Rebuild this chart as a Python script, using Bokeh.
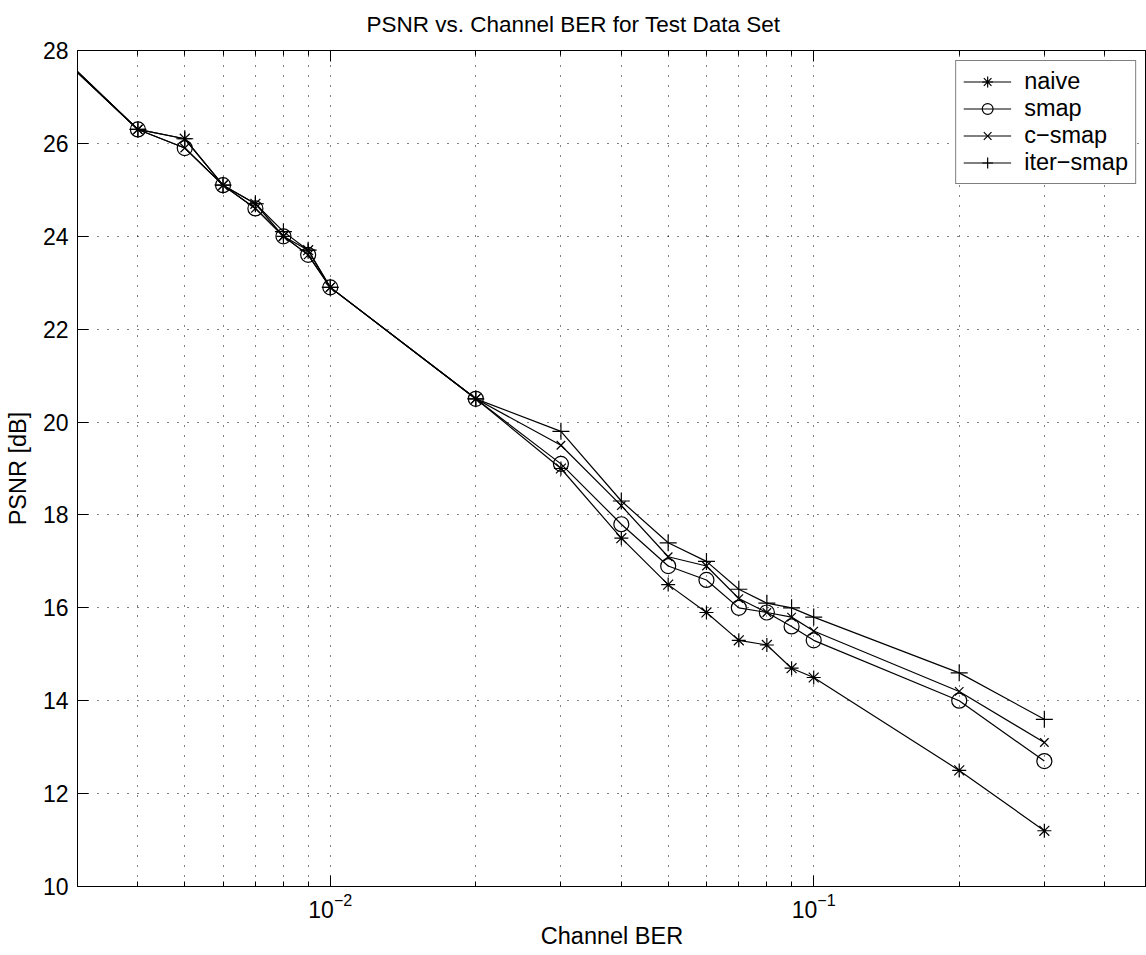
from bokeh.plotting import figure
from bokeh.models import Range1d, FixedTicker, LogAxis, Legend, LegendItem
from bokeh.embed import file_html
from bokeh.resources import INLINE

# ---- data ----
ber = [0.002, 0.004, 0.005, 0.006, 0.007, 0.008, 0.009, 0.01, 0.02, 0.03,
       0.04, 0.05, 0.06, 0.07, 0.08, 0.09, 0.1, 0.2, 0.3]
naive = [29.3, 26.3, 26.1, 25.1, 24.7, 24.0, 23.7, 22.9, 20.5, 19.0,
         17.5, 16.5, 15.9, 15.3, 15.2, 14.7, 14.5, 12.5, 11.2]
smap = [29.3, 26.3, 25.9, 25.1, 24.6, 24.0, 23.6, 22.9, 20.5, 19.1,
        17.8, 16.9, 16.6, 16.0, 15.9, 15.6, 15.3, 14.0, 12.7]
c_smap = [29.25, 26.3, 25.9, 25.1, 24.6, 24.0, 23.6, 22.9, 20.5, 19.5,
          18.2, 17.1, 16.9, 16.2, 15.9, 15.8, 15.5, 14.2, 13.1]
iter_smap = [29.25, 26.3, 26.1, 25.1, 24.7, 24.1, 23.7, 22.9, 20.5, 19.8,
             18.3, 17.4, 17.0, 16.4, 16.1, 16.0, 15.8, 14.6, 13.6]

series_names = ["naive", "smap", "c\u2212smap", "iter\u2212smap"]
series_values = [naive, smap, c_smap, iter_smap]
series_markers = ["asterisk", "circle", "x", "cross"]
marker_sizes = [14, 15, 12, 17]

x_major_ticks = [0.01, 0.1]
x_minor_ticks = [0.004, 0.005, 0.006, 0.007, 0.008, 0.009,
                 0.02, 0.03, 0.04, 0.05, 0.06, 0.07, 0.08, 0.09,
                 0.2, 0.3, 0.4]
y_ticks = [10, 12, 14, 16, 18, 20, 22, 24, 26, 28]
title_text = "PSNR vs. Channel BER for Test Data Set"

FONT = "Liberation Sans"

p = figure(width=1146, height=955, x_axis_type="log",
           x_range=Range1d(0.003, 0.488), y_range=Range1d(10, 28),
           output_backend="svg", toolbar_location=None,
           min_border_left=77, min_border_right=0,
           min_border_top=50, min_border_bottom=69,
           title=title_text)

p.title.text_font = FONT
p.title.text_font_size = "22.5px"
p.title.text_font_style = "normal"
p.title.align = "left"
p.title.offset = 289
p.title.standoff = 23
p.title.vertical_align = "top"
p.title.text_color = "black"

p.outline_line_color = "black"
p.outline_line_width = 1
p.background_fill_color = "white"
p.border_fill_color = "white"

xt = FixedTicker(ticks=x_major_ticks, minor_ticks=x_minor_ticks)
p.xaxis.ticker = xt
p.yaxis.ticker = FixedTicker(ticks=y_ticks)

for ax in (p.xaxis, p.yaxis):
    ax.axis_line_color = "black"
    ax.major_tick_line_color = "black"
    ax.minor_tick_line_color = "black"
    ax.major_tick_in = 11
    ax.major_tick_out = 0
    ax.minor_tick_in = 5
    ax.minor_tick_out = 0
    ax.major_label_text_font = FONT
    ax.major_label_text_font_size = "23px"
    ax.major_label_text_color = "black"
    ax.axis_label_text_font = FONT
    ax.axis_label_text_font_size = "23.5px"
    ax.axis_label_text_font_style = "normal"
    ax.axis_label_text_color = "black"

p.xaxis.axis_label = "Channel BER"
p.yaxis.axis_label = "PSNR [dB]"
p.xaxis.major_label_standoff = 6
p.yaxis.major_label_standoff = 9
p.xaxis.axis_label_standoff = 2
p.yaxis.axis_label_standoff = 9

top = LogAxis(ticker=xt, major_label_text_font_size="4px",
              major_label_text_alpha=0,
              major_tick_in=11, major_tick_out=0, minor_tick_in=5,
              minor_tick_out=0, axis_line_color="black",
              major_label_standoff=0)
p.add_layout(top, "above")

grid_dash = "1 9"
p.xgrid.grid_line_color = "black"
p.xgrid.grid_line_dash = grid_dash
p.xgrid.grid_line_width = 1
p.xgrid.minor_grid_line_color = "black"
p.xgrid.minor_grid_line_dash = grid_dash
p.xgrid.minor_grid_line_width = 1
p.ygrid.grid_line_color = "black"
p.ygrid.grid_line_dash = grid_dash
p.ygrid.grid_line_width = 1

items = []
for name, vals, mk, ms in zip(series_names, series_values, series_markers, marker_sizes):
    r1 = p.line(ber, vals, line_color="black", line_width=1.2)
    r2 = p.scatter(ber, vals, marker=mk, size=ms, line_color="black",
                   fill_color=None, line_width=1.2)
    items.append(LegendItem(label=name, renderers=[r1, r2]))

legend = Legend(items=items, location="top_right")
legend.label_text_font = FONT
legend.label_text_font_size = "23.5px"
legend.label_text_color = "black"
legend.border_line_color = "black"
legend.border_line_width = 1
legend.background_fill_color = "white"
legend.background_fill_alpha = 1
legend.glyph_width = 48
legend.glyph_height = 27
legend.label_standoff = 13
legend.padding = 7
legend.spacing = 0
legend.label_height = 22
legend.margin = 10
p.add_layout(legend, "center")

open("out.html", "w").write(file_html(p, INLINE))
